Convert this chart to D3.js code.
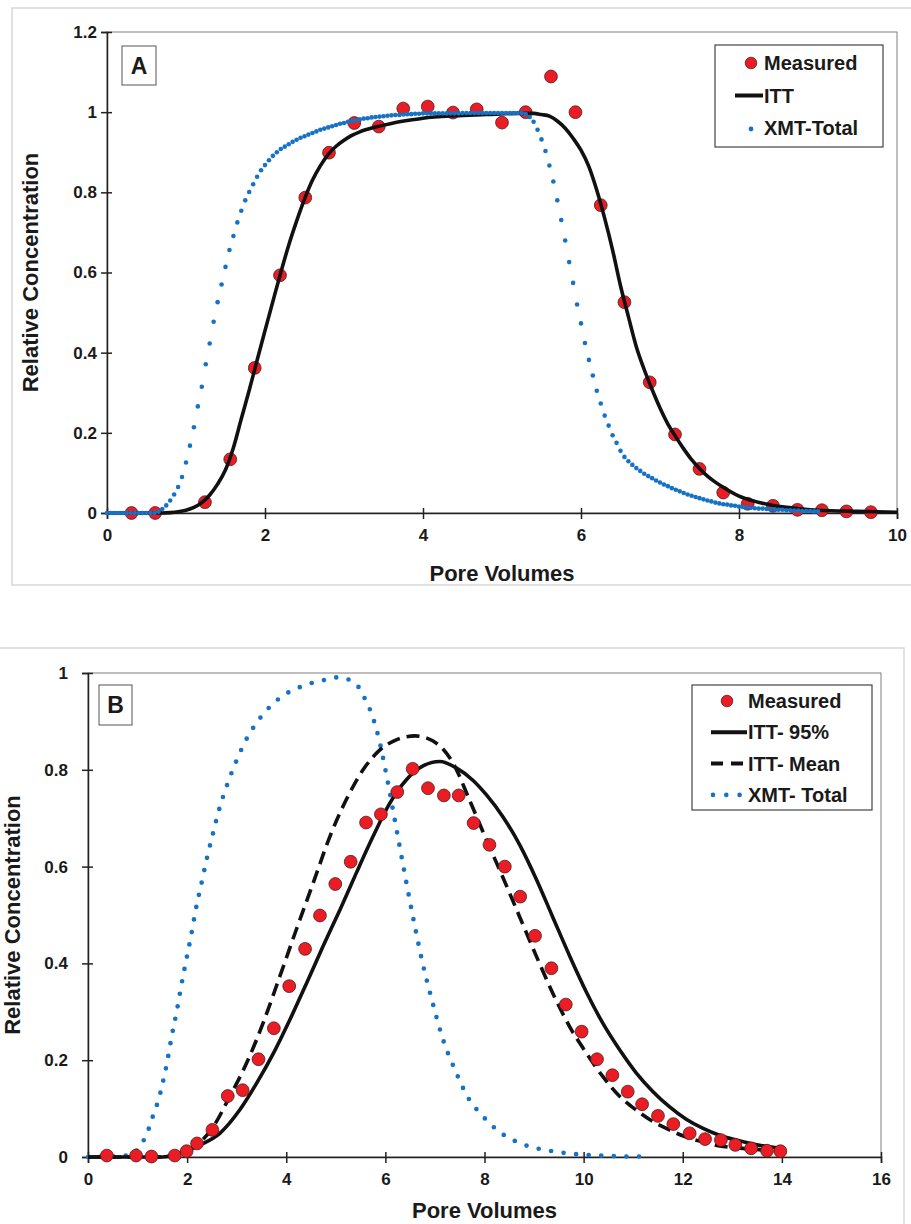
<!DOCTYPE html>
<html>
<head>
<meta charset="utf-8">
<script src="https://cdnjs.cloudflare.com/ajax/libs/d3/7.8.5/d3.min.js"></script>
<style>
    body { margin: 0; background: #fff; }
    svg text { font-family: "Liberation Sans", Arial, sans-serif; font-weight: bold; fill: #1a1a1a; }
</style>
</head>
<body>
<svg id="chart"></svg>
<script>
// ---- Panel A data (pore volumes / relative concentration) ----
const measAx = [0.31,0.61,1.24,1.56,1.87,2.19,2.51,2.81,3.13,3.44,3.75,4.06,4.38,4.68,5.0,
    5.3,5.62,5.93,6.25,6.55,6.87,7.19,7.5,7.8,8.11,8.43,8.74,9.05,9.36,9.67];
const measAy = [0,0,0.027,0.134,0.362,0.593,0.787,0.899,0.973,0.964,1.009,1.014,0.999,1.007,0.974,
    1.0,1.089,1.0,0.768,0.526,0.326,0.196,0.11,0.051,0.023,0.018,0.008,0.007,0.004,0.002];

const ittAx = [0,0.5,0.7,0.8,0.9,1.0,1.1,1.2,1.3,1.4,1.5,1.6,1.7,1.8,1.9,2.0,2.1,2.2,2.3,2.4,
    2.5,2.6,2.7,2.8,2.9,3.0,3.1,3.2,3.4,3.6,3.8,4.0,4.4,4.8,5.2,5.4,5.5,5.6,5.7,5.8,
    5.9,6.0,6.1,6.2,6.3,6.4,6.5,6.6,6.7,6.8,6.9,7.0,7.1,7.2,7.3,7.4,7.5,7.6,7.7,7.8,
    8.0,8.2,8.4,8.6,8.8,9.0,9.5,10];
const ittAy = [0,0,0,0.001,0.003,0.007,0.014,0.026,0.045,0.072,0.108,0.163,0.235,0.306,0.381,0.455,0.528,0.600,0.668,0.728,
    0.783,0.830,0.866,0.895,0.915,0.930,0.942,0.951,0.963,0.972,0.979,0.985,0.991,0.994,0.997,0.997,0.994,0.990,0.978,0.960,
    0.935,0.905,0.864,0.805,0.735,0.656,0.567,0.490,0.415,0.358,0.308,0.262,0.222,0.190,0.160,0.133,0.111,0.092,0.077,0.064,
    0.042,0.029,0.020,0.014,0.010,0.007,0.004,0.002];

const xmtAx = [
    0,0.05,0.1,0.15,0.2,0.25,0.3,0.35,0.4,0.45,
    0.5,0.55,0.6,0.65,0.7,0.75,0.8,0.85,0.9,0.95,
    1,1.05,1.1,1.15,1.2,1.25,1.3,1.35,1.4,1.45,
    1.5,1.55,1.6,1.65,1.7,1.75,1.8,1.85,1.9,1.95,
    2,2.05,2.1,2.15,2.2,2.25,2.3,2.35,2.4,2.45,
    2.5,2.55,2.6,2.65,2.7,2.75,2.8,2.85,2.9,2.95,
    3,3.05,3.1,3.15,3.2,3.25,3.3,3.35,3.4,3.45,
    3.5,3.55,3.6,3.65,3.7,3.75,3.8,3.85,3.9,3.95,
    4,4.05,4.1,4.15,4.2,4.25,4.3,4.35,4.4,4.45,
    4.5,4.55,4.6,4.65,4.7,4.75,4.8,4.85,4.9,4.95,
    5,5.05,5.1,5.15,5.2,5.25,5.3,5.35,5.4,5.45,
    5.5,5.55,5.6,5.65,5.7,5.75,5.8,5.85,5.9,5.95,
    6,6.05,6.1,6.15,6.2,6.25,6.3,6.35,6.4,6.45,
    6.5,6.55,6.6,6.65,6.7,6.75,6.8,6.85,6.9,6.95,
    7,7.05,7.1,7.15,7.2,7.25,7.3,7.35,7.4,7.45,
    7.5,7.55,7.6,7.65,7.7,7.75,7.8,7.85,7.9,7.95,
    8,8.05,8.1,8.15,8.2,8.25,8.3,8.35,8.4,8.45,
    8.5,8.55,8.6,8.65,8.7,8.75,8.8,8.85,8.9,8.95,
    9];
const xmtAy = [
    0,0,0,0,0,0,0,0,0,0,
    0,0,0,0.003,0.010,0.019,0.031,0.046,0.065,0.090,
    0.126,0.168,0.214,0.266,0.315,0.371,0.423,0.477,0.526,0.570,
    0.614,0.656,0.691,0.725,0.754,0.780,0.801,0.820,0.839,0.855,
    0.868,0.880,0.891,0.900,0.908,0.914,0.920,0.926,0.931,0.936,
    0.940,0.944,0.948,0.952,0.956,0.959,0.962,0.965,0.968,0.971,
    0.973,0.976,0.978,0.980,0.982,0.984,0.985,0.987,0.988,0.989,
    0.990,0.991,0.992,0.993,0.993,0.994,0.995,0.995,0.996,0.996,
    0.997,0.997,0.997,0.997,0.997,0.997,0.997,0.997,0.997,0.997,
    0.998,0.998,0.998,0.998,0.998,0.998,0.998,0.998,0.998,0.998,
    0.998,0.998,0.998,0.998,0.998,0.998,0.995,0.988,0.976,0.956,
    0.932,0.903,0.867,0.827,0.780,0.731,0.680,0.626,0.574,0.520,
    0.473,0.424,0.382,0.343,0.305,0.273,0.243,0.218,0.194,0.175,
    0.155,0.140,0.129,0.120,0.112,0.105,0.098,0.092,0.087,0.081,
    0.076,0.071,0.067,0.062,0.058,0.054,0.050,0.046,0.043,0.040,
    0.037,0.034,0.031,0.029,0.026,0.024,0.022,0.021,0.019,0.018,
    0.016,0.015,0.014,0.013,0.012,0.011,0.011,0.010,0.009,0.009,
    0.008,0.008,0.007,0.007,0.006,0.006,0.005,0.005,0.005,0.004,
    0.004];

// ---- Panel B data ----
const measBx = [0.38,0.97,1.28,1.75,1.99,2.2,2.51,2.82,3.12,3.44,3.75,4.06,4.38,4.68,4.99,
    5.3,5.61,5.91,6.24,6.55,6.86,7.18,7.48,7.78,8.1,8.41,8.72,9.02,9.35,9.64,
    9.96,10.27,10.58,10.89,11.18,11.5,11.81,12.14,12.45,12.77,13.06,13.38,13.7,13.97];
const measBy = [0.003,0.003,0.001,0.003,0.012,0.028,0.056,0.126,0.138,0.202,0.266,0.353,0.43,0.499,0.564,
    0.61,0.691,0.708,0.754,0.802,0.762,0.747,0.747,0.69,0.645,0.6,0.538,0.457,0.39,0.315,
    0.259,0.202,0.169,0.135,0.109,0.085,0.068,0.049,0.037,0.035,0.025,0.018,0.013,0.012];

const itt95Bx = [0,1.5,1.86,2.26,2.66,3.06,3.4,3.74,4.07,4.41,4.74,5.08,5.41,5.75,6.09,6.42,6.76,7.1,7.43,7.77,
    8.04,8.37,8.71,9.05,9.38,9.72,10.06,10.39,10.73,11.06,11.4,11.73,12.07,12.41,12.74,13.08,13.41,13.75,14.0];
const itt95By = [0,0,0.008,0.025,0.049,0.097,0.152,0.214,0.283,0.359,0.435,0.51,0.586,0.662,0.731,0.779,0.808,0.817,0.804,0.778,
    0.748,0.703,0.645,0.573,0.495,0.415,0.34,0.276,0.221,0.174,0.135,0.104,0.078,0.059,0.045,0.035,0.027,0.021,0.018];

const ittMeanBx = [0,1.5,1.86,2.2,2.53,2.86,3.2,3.53,3.87,4.2,4.54,4.88,5.21,5.55,5.89,6.22,6.6,7.03,7.37,7.7,
    8.04,8.37,8.71,9.05,9.38,9.72,10.06,10.39,10.73,11.06,11.4,11.73,12.07,12.41,12.74,13.08,13.41,14.0];
const ittMeanBy = [0,0,0.008,0.025,0.063,0.125,0.194,0.276,0.373,0.469,0.565,0.662,0.738,0.8,0.841,0.862,0.870,0.855,0.813,0.737,
    0.655,0.578,0.496,0.414,0.338,0.269,0.214,0.166,0.125,0.097,0.073,0.056,0.041,0.031,0.023,0.019,0.016,0.013];

const xmtBx = [0,0.87,1.04,1.18,1.26,1.34,1.43,1.49,1.55,1.6,1.69,1.79,1.88,1.98,2.08,2.17,2.28,2.39,2.51,2.64,
    2.8,2.98,3.2,3.48,3.84,4.3,4.79,5.05,5.29,5.48,5.6,5.71,5.86,6.02,6.16,6.3,6.44,6.59,6.75,6.94,
    7.15,7.43,7.65,7.96,8.34,8.81,9.31,9.83,10.34,10.86,11.15];
const xmtBy = [0,0.004,0.022,0.046,0.069,0.094,0.12,0.146,0.172,0.198,0.25,0.301,0.353,0.406,0.457,0.509,0.561,0.613,0.664,0.716,
    0.767,0.815,0.864,0.908,0.946,0.972,0.986,0.991,0.985,0.968,0.944,0.919,0.868,0.79,0.713,0.635,0.558,0.479,0.401,0.324,
    0.247,0.174,0.126,0.085,0.049,0.025,0.013,0.006,0.003,0.001,0.001];

// ---- tick values ----
const ticksAx = [0,2,4,6,8,10];
const ticksAy = [0,0.2,0.4,0.6,0.8,1,1.2];
const ticksBx = [0,2,4,6,8,10,12,14,16];
const ticksBy = [0,0.2,0.4,0.6,0.8,1];

let width = 911,
    height = 1224;

let RED = '#ec1c24',
    BLUE = '#1572c4';

let svg = d3.select('#chart')
    .attr('width', width)
    .attr('height', height);

function zip(xs, ys) {
    return xs.map(function(x, i) { return [x, ys[i]]; });
}

function drawPanel(p) {
    // outer figure frame
    svg.append('rect')
        .attr('x', p.frame[0]).attr('y', p.frame[1])
        .attr('width', p.frame[2]).attr('height', p.frame[3])
        .style('fill', 'none')
        .style('stroke', '#d8d8d8')
        .style('stroke-width', 1.5);

    let x = d3.scaleLinear().domain(p.xDomain).range([p.left, p.right]);
    let y = d3.scaleLinear().domain(p.yDomain).range([p.bottom, p.top]);

    // plot area border
    svg.append('rect')
        .attr('x', p.left).attr('y', p.top)
        .attr('width', p.right - p.left).attr('height', p.bottom - p.top)
        .style('fill', 'none')
        .style('stroke', '#7f7f7f')
        .style('stroke-width', 1);

    let xAxis = svg.append('g')
        .attr('transform', 'translate(0,' + p.bottom + ')')
        .call(d3.axisBottom(x).tickValues(p.xTicks).tickSizeOuter(0).tickSize(6).tickPadding(10)
            .tickFormat(d3.format('d')));
    let yAxis = svg.append('g')
        .attr('transform', 'translate(' + p.left + ',0)')
        .call(d3.axisLeft(y).tickValues(p.yTicks).tickSizeOuter(0).tickSize(6).tickPadding(p.yPad)
            .tickFormat(function(d) { return d3.format('~g')(d); }));

    [xAxis, yAxis].forEach(function(a) {
        a.attr('font-family', null).attr('font-size', null);
        a.select('.domain').style('stroke', '#222').style('stroke-width', 1.5);
        a.selectAll('.tick line').style('stroke', '#222').style('stroke-width', 1.5);
        a.selectAll('.tick text').style('font-size', '17px').style('fill', '#1a1a1a');
    });
    // ticks cross the axis line
    xAxis.selectAll('.tick line').attr('y1', -5).attr('y2', 6);
    yAxis.selectAll('.tick line').attr('x1', 5).attr('x2', -6);

    // axis titles
    svg.append('text')
        .attr('x', (p.left + p.right) / 2)
        .attr('y', p.xTitleY)
        .attr('text-anchor', 'middle')
        .style('font-size', '22px')
        .text('Pore Volumes');
    svg.append('text')
        .attr('transform', 'translate(' + p.yTitleX + ',' + (p.top + p.bottom) / 2 + ') rotate(-90)')
        .attr('text-anchor', 'middle')
        .style('font-size', '22px')
        .text('Relative Concentration');

    // panel letter box
    svg.append('rect')
        .attr('x', p.tag[0]).attr('y', p.tag[1])
        .attr('width', p.tag[2]).attr('height', p.tag[3])
        .style('fill', '#fff')
        .style('stroke', '#555')
        .style('stroke-width', 1);
    svg.append('text')
        .attr('x', p.tag[0] + p.tag[2] / 2)
        .attr('y', p.tag[1] + p.tag[3] / 2 + 8)
        .attr('text-anchor', 'middle')
        .style('font-size', '23px')
        .text(p.letter);

    let line = d3.line()
        .x(function(d) { return x(d[0]); })
        .y(function(d) { return y(d[1]); })
        .curve(d3.curveMonotoneX);

    let plot = svg.append('g');
    p.layers.forEach(function(s) {
        if (s.type === 'points') {
            plot.append('g').selectAll('circle')
                .data(s.data)
                .enter()
                .append('circle')
                .attr('cx', function(d) { return x(d[0]); })
                .attr('cy', function(d) { return y(d[1]); })
                .attr('r', 6.4)
                .style('fill', RED)
                .style('stroke', '#4a2020')
                .style('stroke-width', 0.8);
        } else if (s.type === 'markers') {
            plot.append('g').selectAll('circle')
                .data(s.data)
                .enter()
                .append('circle')
                .attr('cx', function(d) { return x(d[0]); })
                .attr('cy', function(d) { return y(d[1]); })
                .attr('r', 2.3)
                .style('fill', BLUE);
        } else {
            plot.append('path')
                .datum(s.data)
                .attr('d', line)
                .style('fill', 'none')
                .style('stroke', s.color)
                .style('stroke-width', s.width)
                .style('stroke-linecap', s.cap || 'butt')
                .style('stroke-dasharray', s.dash || null);
        }
    });

    // legend
    let lg = svg.append('g');
    lg.append('rect')
        .attr('x', p.legend.x).attr('y', p.legend.y)
        .attr('width', p.legend.w).attr('height', p.legend.h)
        .style('fill', '#fff')
        .style('stroke', '#444')
        .style('stroke-width', 1.2);

    p.legend.items.forEach(function(it, i) {
        let cy = p.legend.y + p.legend.first + i * p.legend.step;
        let sx = p.legend.sx;
        if (it.kind === 'circle') {
            lg.append('circle').attr('cx', sx + 16).attr('cy', cy).attr('r', 5.8)
                .style('fill', RED).style('stroke', '#4a2020').style('stroke-width', 0.8);
        } else if (it.kind === 'dot') {
            lg.append('circle').attr('cx', sx + 16).attr('cy', cy + 1).attr('r', 2.4)
                .style('fill', BLUE);
        } else {
            let dots = it.kind === 'dots';
            lg.append('line')
                .attr('x1', dots ? sx + 2 : sx).attr('x2', p.legend.tx - 1)
                .attr('y1', cy).attr('y2', cy)
                .style('stroke', dots ? BLUE : '#111')
                .style('stroke-width', dots ? 4.6 : 4)
                .style('stroke-linecap', dots ? 'round' : 'butt')
                .style('stroke-dasharray', it.kind === 'dash' ? '12,8' : (dots ? '0,13.3' : null));
        }
        lg.append('text')
            .attr('x', p.legend.tx)
            .attr('y', cy + 7)
            .style('font-size', '20px')
            .text(it.label);
    });
}

// Panel A
drawPanel({
    frame: [12, 8, 910, 577],
    left: 107, right: 897, top: 32, bottom: 513,
    xDomain: [0, 10], yDomain: [0, 1.2],
    xTicks: ticksAx, yTicks: ticksAy, yPad: 4,
    xTitleY: 581, yTitleX: 38,
    tag: [122, 46, 34, 39], letter: 'A',
    layers: [
        { type: 'points', data: zip(measAx, measAy) },
        { type: 'line', data: zip(ittAx, ittAy), color: '#111', width: 3.6 },
        { type: 'markers', data: zip(xmtAx, xmtAy) }
    ],
    legend: {
        x: 715, y: 45, w: 168, h: 102, first: 18, step: 32.5, sx: 735, tx: 764,
        items: [
            { kind: 'circle', label: 'Measured' },
            { kind: 'line', label: 'ITT' },
            { kind: 'dot', label: 'XMT-Total' }
        ]
    }
});

// Panel B
drawPanel({
    frame: [-5, 648, 909, 600],
    left: 88, right: 881, top: 673, bottom: 1157,
    xDomain: [0, 16], yDomain: [0, 1],
    xTicks: ticksBx, yTicks: ticksBy, yPad: 14,
    xTitleY: 1218, yTitleX: 20,
    tag: [99, 685, 33, 40], letter: 'B',
    layers: [
        { type: 'line', data: zip(xmtBx, xmtBy), color: BLUE, width: 4.7, cap: 'round', dash: '0,12.6' },
        { type: 'line', data: zip(ittMeanBx, ittMeanBy), color: '#111', width: 3.6, dash: '13,7' },
        { type: 'line', data: zip(itt95Bx, itt95By), color: '#111', width: 3.6 },
        { type: 'points', data: zip(measBx, measBy) }
    ],
    legend: {
        x: 692, y: 685, w: 180, h: 125, first: 16, step: 31.3, sx: 711, tx: 748,
        items: [
            { kind: 'circle', label: 'Measured' },
            { kind: 'line', label: 'ITT- 95%' },
            { kind: 'dash', label: 'ITT- Mean' },
            { kind: 'dots', label: 'XMT- Total' }
        ]
    }
});
</script>
</body>
</html>
